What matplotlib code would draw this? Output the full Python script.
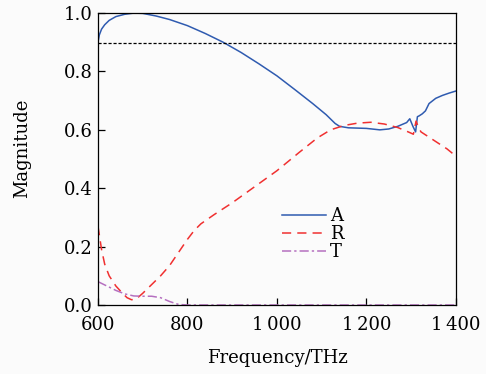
#!/usr/bin/env python3
"""Absorption / reflection / transmission spectra vs frequency."""

import numpy as np
import matplotlib
matplotlib.use("Agg")
import matplotlib.pyplot as plt

# absorption A
freq_a = [600, 603, 608, 615, 625, 640, 660, 680, 700, 730, 760, 800, 840,
          880, 920, 960, 1000, 1040, 1080, 1110, 1130, 1140, 1160, 1200, 1230,
          1250, 1270, 1290, 1297, 1304, 1310, 1314, 1318, 1325, 1332, 1340,
          1355, 1370, 1385, 1400]
mag_a = [0.90, 0.925, 0.945, 0.96, 0.975, 0.988, 0.996, 1.0, 0.999, 0.99,
         0.978, 0.957, 0.93, 0.90, 0.865, 0.826, 0.785, 0.738, 0.69, 0.652,
         0.622, 0.612, 0.607, 0.605, 0.600, 0.603, 0.612, 0.625, 0.638, 0.612,
         0.593, 0.645, 0.648, 0.655, 0.665, 0.69, 0.708, 0.718, 0.726, 0.733]

# reflection R
freq_r = [600, 603, 608, 615, 625, 640, 655, 665, 675, 685, 700, 720, 740,
          760, 780, 800, 815, 830, 860, 900, 950, 1000, 1050, 1090, 1120,
          1150, 1180, 1210, 1240, 1270, 1295, 1305, 1311, 1316, 1322, 1350,
          1380, 1400]
mag_r = [0.27, 0.24, 0.19, 0.14, 0.10, 0.065, 0.04, 0.025, 0.018, 0.02, 0.04,
         0.07, 0.10, 0.135, 0.18, 0.225, 0.255, 0.278, 0.31, 0.35, 0.405,
         0.46, 0.523, 0.572, 0.60, 0.615, 0.623, 0.626, 0.62, 0.608, 0.592,
         0.585, 0.63, 0.61, 0.593, 0.565, 0.535, 0.51]

# transmission T
freq_t = [600, 620, 640, 660, 680, 700, 720, 740, 760, 780, 800, 1000, 1200, 1400]
mag_t = [0.08, 0.065, 0.05, 0.038, 0.031, 0.03, 0.03, 0.025, 0.012, 0.002,
         0.0, 0.0, 0.0, 0.0]

threshold = 0.898

plt.rcParams["font.family"] = ["DejaVu Serif"]
plt.rcParams["font.size"] = 13

fig = plt.figure(figsize=(4.86, 3.74), dpi=100, facecolor="#fbfbfb")
ax = fig.add_axes([0.2016, 0.1845, 0.7364, 0.7805])
ax.set_facecolor("#fbfbfb")

ax.plot(freq_a, mag_a, color="#2f5bb0", lw=1.1, label="A")
ax.plot(freq_r, mag_r, color="#f03030", lw=1.1, ls=(0, (6, 4)), label="R")
ax.plot(freq_t, mag_t, color="#b570c0", lw=1.1, ls=(0, (6, 2, 1.5, 2)), label="T")
ax.axhline(threshold, color="black", lw=0.9, ls=(0, (2.5, 1.5)))

ax.set_xlim(600, 1400)
ax.set_ylim(0, 1.0)
xt = [600, 800, 1000, 1200, 1400]
ax.set_xticks(xt)
ax.set_xticklabels([f"{v:,}".replace(",", "\u2009") for v in xt])
ax.set_yticks(np.arange(0, 1.01, 0.2))
ax.set_yticklabels([f"{v:.1f}" for v in np.arange(0, 1.01, 0.2)])
ax.tick_params(direction="in", length=5, width=0.9)
ax.tick_params(axis="x", pad=8)
ax.tick_params(axis="y", pad=4)
for s in ax.spines.values():
    s.set_linewidth(0.9)

ax.set_xlabel("Frequency/THz", labelpad=11)
ax.set_ylabel("Magnitude")
ax.yaxis.set_label_coords(-0.188, 0.536)

ax.legend(loc="upper left", bbox_to_anchor=(0.49, 0.366), frameon=False,
          handlelength=2.4, handletextpad=0.25, labelspacing=0.0,
          borderpad=0, fontsize=13)

fig.savefig("out.png", dpi=100, facecolor=fig.get_facecolor())
